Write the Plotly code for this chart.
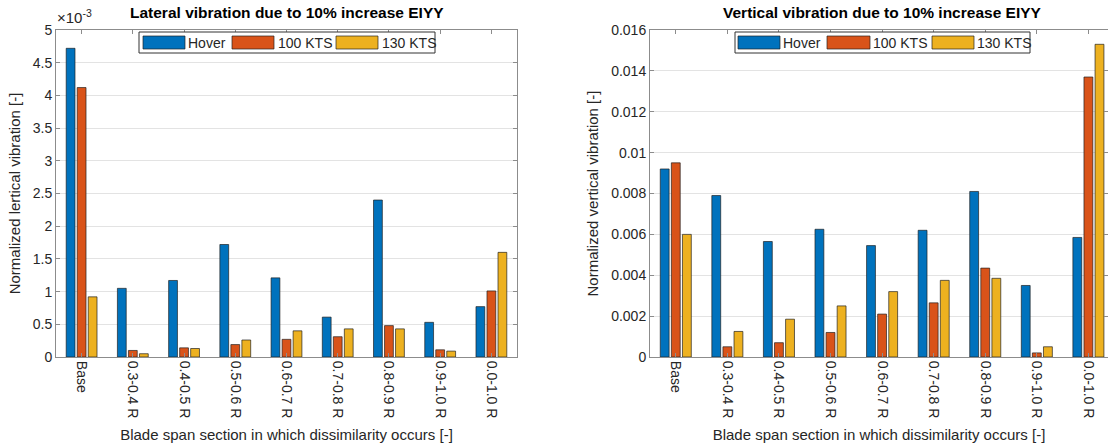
import plotly.graph_objects as go

W, H = 1108, 447

categories = ["Base", "0.3-0.4 R", "0.4-0.5 R", "0.5-0.6 R", "0.6-0.7 R",
              "0.7-0.8 R", "0.8-0.9 R", "0.9-1.0 R", "0.0-1.0 R"]
series_names = ["Hover", "100 KTS", "130 KTS"]
colors = ["#0072BD", "#D95319", "#EDB120"]

# Lateral vibration (units of 1e-3)
lateral_hover = [4.72, 1.05, 1.17, 1.72, 1.21, 0.61, 2.40, 0.53, 0.77]
lateral_100 = [4.12, 0.10, 0.14, 0.19, 0.27, 0.31, 0.48, 0.11, 1.01]
lateral_130 = [0.92, 0.05, 0.13, 0.26, 0.40, 0.43, 0.43, 0.09, 1.60]

# Vertical vibration
vertical_hover = [0.0092, 0.0079, 0.00565, 0.00625, 0.00545, 0.0062, 0.0081, 0.0035, 0.00585]
vertical_100 = [0.0095, 0.0005, 0.0007, 0.0012, 0.0021, 0.00265, 0.00435, 0.0002, 0.0137]
vertical_130 = [0.0060, 0.00125, 0.00185, 0.0025, 0.0032, 0.00375, 0.00385, 0.0005, 0.0153]

left_title = "Lateral vibration due to 10% increase EIYY"
right_title = "Vertical vibration due to 10% increase EIYY"
x_title = "Blade span section in which dissimilarity occurs [-]"
left_ytitle = "Normalized lertical vibration [-]"
right_ytitle = "Normalized vertical vibration [-]"

FONT = "Liberation Sans, Arial, Helvetica, sans-serif"
TXT = "#262626"
AX = "#8c8c8c"


def px(x):
    return x / W


def py(y):
    return 1 - y / H


fig = go.Figure()
for name, col, vals in zip(series_names, colors, [lateral_hover, lateral_100, lateral_130]):
    fig.add_trace(go.Bar(x=categories, y=vals, name=name, marker_color=col,
                         marker_line=dict(color="rgba(30,30,30,0.85)", width=0.8),
                         xaxis="x", yaxis="y", showlegend=False, offsetgroup=name))
for name, col, vals in zip(series_names, colors, [vertical_hover, vertical_100, vertical_130]):
    fig.add_trace(go.Bar(x=categories, y=vals, name=name, marker_color=col,
                         marker_line=dict(color="rgba(30,30,30,0.85)", width=0.8),
                         xaxis="x2", yaxis="y2", showlegend=False, offsetgroup=name))

y_dom = [py(357), py(30)]
xcommon = dict(type="category", showline=True, linecolor=AX, linewidth=1,
               mirror="ticks", ticks="inside", ticklen=4, tickcolor=AX,
               tickangle=90, tickfont=dict(size=14, color=TXT, family=FONT),
               showgrid=False, zeroline=False, automargin=False,
               title=dict(text=x_title, font=dict(size=15, color=TXT, family=FONT), standoff=12))
ycommon = dict(showline=True, linecolor=AX, linewidth=1, mirror="ticks",
               ticks="inside", ticklen=4, tickcolor=AX,
               tickfont=dict(size=14, color=TXT, family=FONT), automargin=False,
               showgrid=True, gridcolor="#e3e3e3", zeroline=False)

fig.update_layout(
    width=W, height=H,
    margin=dict(l=0, r=0, t=0, b=0),
    paper_bgcolor="white", plot_bgcolor="white",
    font=dict(family=FONT, color=TXT),
    barmode="group", bargap=0.355, bargroupgap=0.2,
    xaxis=dict(domain=[px(56), px(517)], range=[-0.5, 8.5], anchor="y", **xcommon),
    yaxis=dict(domain=y_dom, range=[0, 5], dtick=0.5, anchor="x",
               title=dict(text=left_ytitle, font=dict(size=15, color=TXT, family=FONT), standoff=8),
               **ycommon),
    xaxis2=dict(domain=[px(650), 1.0], range=[-0.5, 8.38], anchor="y2", **xcommon),
    yaxis2=dict(domain=y_dom, range=[0, 0.016], dtick=0.002, anchor="x2",
                title=dict(text=right_ytitle, font=dict(size=15, color=TXT, family=FONT), standoff=8),
                **ycommon),
)

annotations = [
    dict(text="<b>" + left_title + "</b>", x=px(287), y=py(13), xref="paper", yref="paper",
         showarrow=False, font=dict(size=15.5, color="black", family=FONT), xanchor="center", yanchor="middle"),
    dict(text="<b>" + right_title + "</b>", x=px(882), y=py(13), xref="paper", yref="paper",
         showarrow=False, font=dict(size=15.5, color="black", family=FONT), xanchor="center", yanchor="middle"),
    dict(text="×10<sup>-3</sup>", x=px(55), y=py(28), xref="paper", yref="paper",
         showarrow=False, font=dict(size=15, color=TXT, family=FONT), xanchor="left", yanchor="bottom"),
]
shapes = []


def add_legend(box, rects, texts_x):
    x0, x1, y0, y1 = box
    shapes.append(dict(type="rect", xref="paper", yref="paper", x0=px(x0), x1=px(x1),
                       y0=py(y1), y1=py(y0), line=dict(color="#333333", width=1), fillcolor="white"))
    for (rx0, rx1), tx, name, col in zip(rects, texts_x, series_names, colors):
        shapes.append(dict(type="rect", xref="paper", yref="paper", x0=px(rx0), x1=px(rx1),
                           y0=py(49), y1=py(36), line=dict(color="rgba(30,30,30,0.85)", width=0.8),
                           fillcolor=col))
        annotations.append(dict(text=name, x=px(tx), y=py(42.5), xref="paper", yref="paper",
                                showarrow=False, xanchor="left", yanchor="middle",
                                font=dict(size=14, color=TXT, family=FONT)))


add_legend((139, 435, 32, 53), [(143, 185), (232, 274), (336, 378)], [186, 276, 380])
add_legend((735, 1030, 32, 53), [(738, 780), (827, 870), (932, 974)], [781, 871, 975])

fig.update_layout(annotations=annotations, shapes=shapes)
fig.write_html("out.html", config={"displayModeBar": False},
               post_script="document.body.style.margin='0';document.body.style.overflow='hidden';")
